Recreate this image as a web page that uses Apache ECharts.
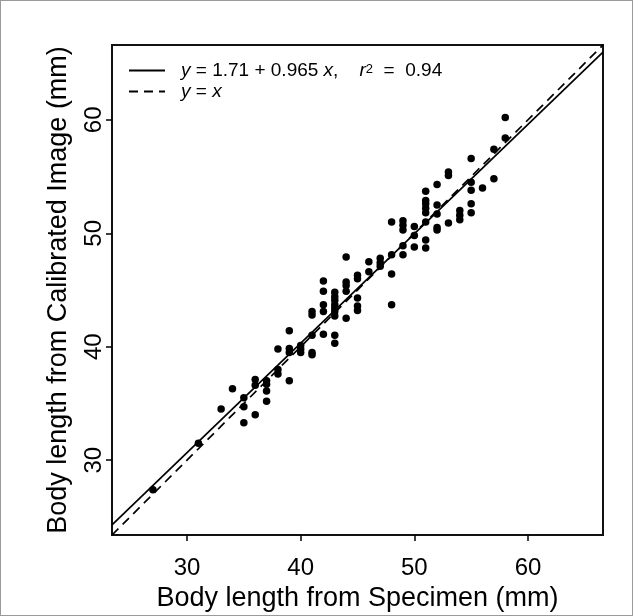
<!DOCTYPE html>
<html>
<head>
<meta charset="utf-8">
<script src="https://cdn.jsdelivr.net/npm/echarts@6.0.0/dist/echarts.min.js"></script>
<style>
  html, body { margin: 0; padding: 0; background: #fff; }
  #main { width: 633px; height: 616px; box-sizing: border-box; border: 1px solid #9a9a9a; }
</style>
</head>
<body>
<div id="main"></div>
<script>
// 坐标轴范围与刻度
var axisMin = 23.4;
var axisMax = 66.6;
var tickValues = [30, 40, 50, 60];

// 回归线 y = a + b x
var fitA = 1.71;
var fitB = 0.965;

// 标本测量值 (x) 与校准图像测量值 (y)
var xSpecimen = [
  27, 31, 33, 34,
  35, 35, 35,
  36, 36, 36,
  37, 37, 37, 37,
  38, 38, 38,
  39, 39, 39, 39,
  40, 40, 40,
  41, 41, 41, 41, 41,
  42, 42, 42, 42, 42,
  43, 43, 43, 43, 43, 43, 43, 43, 43,
  44, 44, 44, 44, 44,
  45, 45, 45, 45, 45,
  46, 46,
  47, 47, 47,
  48, 48, 48, 48,
  49, 49, 49, 49, 49,
  50, 50, 50,
  51, 51, 51, 51, 51, 51, 51, 51,
  52, 52, 52, 52, 52,
  53, 53, 53,
  54, 54, 54,
  55, 55, 55, 55, 55,
  56,
  57, 57,
  58, 58
];
var yImage = [
  27.4, 31.5, 34.5, 36.3,
  35.5, 34.7, 33.3,
  37.1, 36.6, 34.0,
  37.0, 36.7, 36.1, 35.2,
  39.8, 38.0, 37.6,
  41.4, 39.85, 39.5, 37.0,
  40.1, 39.8, 39.5,
  43.1, 42.8, 41.0, 39.5, 39.3,
  45.8, 44.9, 43.7, 43.1, 41.1,
  44.8, 44.4, 44.1, 43.7, 43.4, 43.1, 42.7, 41.0, 40.3,
  47.9, 45.7, 45.4, 44.9, 42.5,
  46.3, 46.0, 44.3, 43.6, 43.2,
  47.5, 46.6,
  47.8, 47.4, 47.1,
  51.0, 48.1, 46.4, 43.7,
  51.1, 50.7, 50.3, 48.9, 48.1,
  50.6, 49.8, 48.8,
  53.7, 52.9, 52.6, 52.2, 51.8, 51.0, 49.4, 48.7,
  54.3, 52.5, 51.7, 50.5, 50.3,
  55.4, 55.1, 50.9,
  52.0, 51.6, 51.2,
  56.6, 54.5, 53.8, 52.6, 51.8,
  54.0,
  57.4, 54.8,
  60.2, 58.4
];

var fontFamily = '"Liberation Sans", Arial, Helvetica, sans-serif';

var points = [];
for (var i = 0; i < xSpecimen.length; i++) {
  points.push([xSpecimen[i], yImage[i]]);
}
// 回归线与 y = x 参考线
var fitLine = [[axisMin, fitA + fitB * axisMin], [axisMax, fitA + fitB * axisMax]];
var identityLine = [[axisMin, axisMin], [axisMax, axisMax]];

var legendText = {
  fit: '{i|y} = 1.71 + 0.965 {i|x},    {i|r}{s|2}  =  0.94',
  identity: '{i|y} = {i|x}'
};

function axisCommon(nameGap) {
  return {
    type: 'value',
    min: axisMin,
    max: axisMax,
    nameLocation: 'middle',
    nameGap: nameGap,
    nameTextStyle: { fontSize: 27, color: '#000', fontFamily: fontFamily },
    axisLine: { show: false },
    splitLine: { show: false },
    axisTick: {
      show: true,
      inside: false,
      length: 6,
      customValues: tickValues,
      lineStyle: { color: '#000', width: 1.5 }
    },
    axisLabel: {
      customValues: tickValues,
      fontSize: 24,
      color: '#000',
      fontFamily: fontFamily
    }
  };
}

var xAxis = axisCommon(46);
xAxis.name = 'Body length from Specimen (mm)';
xAxis.axisLabel.margin = 21;

var yAxis = axisCommon(40);
yAxis.name = 'Body length from Calibrated Image (mm)';
yAxis.axisLabel.rotate = 90;
yAxis.axisLabel.margin = 6;

var chart = echarts.init(document.getElementById('main'), null, { renderer: 'canvas' });
chart.setOption({
  animation: false,
  backgroundColor: '#fff',
  grid: {
    left: 111, top: 44, right: 29, bottom: 80,
    containLabel: false,
    outerBoundsMode: 'none',
    show: true,
    borderColor: '#111',
    borderWidth: 2,
    backgroundColor: 'transparent'
  },
  legend: {
    data: ['fit', 'identity'],
    orient: 'vertical',
    left: 127,
    top: 60,
    padding: 0,
    itemWidth: 36,
    itemHeight: 14,
    itemGap: 2,
    itemStyle: { opacity: 0 },
    formatter: function(name) {
      return legendText[name];
    },
    textStyle: {
      fontSize: 19,
      lineHeight: 15,
      color: '#000',
      fontFamily: fontFamily,
      padding: [0, 0, 0, 11],
      rich: {
        i: { fontSize: 19, lineHeight: 15, fontStyle: 'italic', color: '#000', fontFamily: fontFamily },
        s: { fontSize: 13, lineHeight: 1, verticalAlign: 'top', color: '#000', fontFamily: fontFamily }
      }
    }
  },
  xAxis: xAxis,
  yAxis: yAxis,
  series: [
    {
      name: 'points',
      type: 'scatter',
      data: points,
      symbol: 'circle',
      symbolSize: 7.5,
      itemStyle: { color: '#000', opacity: 1 }
    },
    {
      name: 'fit',
      type: 'line',
      data: fitLine,
      symbol: 'none',
      clip: true,
      lineStyle: { color: '#000', width: 1.7, type: 'solid' },
      itemStyle: { color: '#000' }
    },
    {
      name: 'identity',
      type: 'line',
      data: identityLine,
      symbol: 'none',
      clip: true,
      lineStyle: { color: '#000', width: 1.7, type: [9, 6] },
      itemStyle: { color: '#000' }
    }
  ]
});
</script>
</body>
</html>
